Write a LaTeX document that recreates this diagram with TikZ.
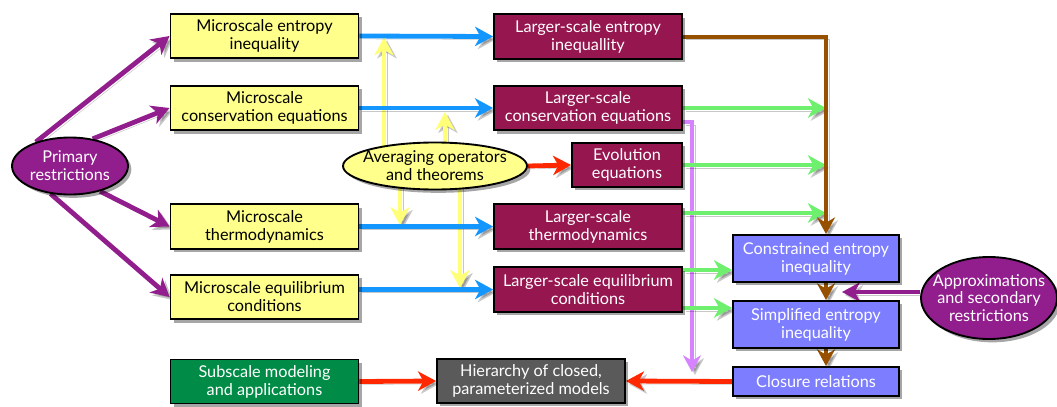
\documentclass[tikz,border=0pt]{standalone}
\usepackage{fontspec}
\setmainfont{Lato}
\usetikzlibrary{arrows.meta,shadows,backgrounds,calc,shapes.geometric}
\definecolor{ybox}{RGB}{255,255,140}
\definecolor{mbox}{RGB}{150,22,80}
\definecolor{bbox}{RGB}{125,125,255}
\definecolor{gbox}{RGB}{0,140,70}
\definecolor{hbox}{RGB}{90,90,90}
\definecolor{purp}{RGB}{145,30,140}
\definecolor{yarr}{RGB}{255,255,120}
\definecolor{barr}{RGB}{20,150,255}
\definecolor{brarr}{RGB}{150,80,0}
\definecolor{garr}{RGB}{110,240,110}
\definecolor{larr}{RGB}{215,130,255}
\definecolor{rarr}{RGB}{255,40,0}
\tikzset{
  shad/.style={drop shadow={shadow xshift=2.5pt,shadow yshift=-2.5pt,opacity=0.35,fill=black}},
  box/.style={rectangle, draw=black, line width=1.4pt, align=center, inner sep=1pt, shad},
  micro/.style={box, fill=ybox, text=black, minimum width=141pt, minimum height=33.5pt},
  large/.style={box, fill=mbox, text=white, minimum width=141pt, minimum height=33.5pt},
  bluebox/.style={box, fill=bbox, text=white, minimum width=124.5pt, minimum height=35.25pt},
  ell/.style={ellipse, draw=black, line width=1.4pt, inner sep=0pt, shad},
  lshad/.style={preaction={draw=black, opacity=0.22, transform canvas={xshift=2.2pt,yshift=-2.2pt}}},
  arr/.style={lshad, line width=3.6pt, -{Stealth[length=13.5pt,width=14.5pt,inset=4pt]}},
  thin/.style={lshad, line width=3pt, -{Stealth[length=12.5pt,width=13.5pt,inset=4pt]}},
}
\begin{document}
\begin{tikzpicture}[x=0.75pt,y=0.75pt,font=\fontsize{12.2}{13.6}\selectfont]
\useasboundingbox (0,0) rectangle (1057,-407);

% nodes
\node[micro] (ym1) at (264.5,-36) {Microscale entropy\\inequality};
\node[micro] (ym2) at (264.5,-108) {Microscale\\conservation equations};
\node[micro] (ym3) at (264.5,-226.5) {Microscale\\thermodynamics};
\node[micro] (ym4) at (264.5,-297) {Microscale equilibrium\\conditions};
\node[box, fill=gbox, text=white, minimum width=141pt, minimum height=33pt] (sub) at (264.5,-381.5) {Subscale modeling\\and applications};

\node[large] (L1) at (588,-36.5) {Larger-scale entropy\\inequallity};
\node[large] (L2) at (588,-108) {Larger-scale\\conservation equations};
\node[large] (L3) at (588,-226.5) {Larger-scale\\thermodynamics};
\node[large] (L4) at (588,-289.5) {Larger-scale equilibrium\\conditions};
\node[box, fill=mbox, text=white, minimum width=82.5pt, minimum height=33pt] (ev) at (627,-165) {Evolution\\equations};
\node[box, fill=hbox, text=white, minimum width=141pt, minimum height=33pt] (H) at (531,-381) {Hierarchy of closed,\\parameterized models};

\node[bluebox] (C) at (816,-258.5) {Constrained entropy\\inequality};
\node[bluebox] (S) at (816,-324.5) {Simplified entropy\\inequality};
\node[bluebox, minimum height=21.75pt] (Cl) at (816,-381.5) {Closure relations};

\node[ell, fill=purp, minimum width=87pt, minimum height=42.75pt,
  label={[align=center,text=white]center:{Primary\\restrictions}}] (prim) at (70,-166) {};
\node[ell, fill=ybox, minimum width=138pt, minimum height=35.25pt,
  label={[align=center,text=black]center:{Averaging operators\\and theorems}}] (avg) at (435,-166) {};
\node[ell, fill=purp, minimum width=102pt, minimum height=61.5pt,
  label={[align=center,text=white,font=\fontsize{12.2}{12.9}\selectfont]center:{Approximations\\and secondary\\restrictions}}] (ap) at (989,-298) {};

\coordinate (xa) at (384,0);
\coordinate (xb) at (400,0);
\coordinate (xc) at (445,0);
\coordinate (xd) at (460,0);
\coordinate (bx) at (826,0);
\coordinate (g3) at (0,-213);
\coordinate (g4) at (0,-270);
\coordinate (g5) at (0,-308);
\coordinate (lt) at (0,-122);
\coordinate (lx) at (692,-372);
\coordinate (apend) at (842,-292);

\begin{pgfonlayer}{background}
\fill[white] (0,0) rectangle (1057,-407);
% yellow averaging arrows
\draw[arr, yarr, shorten >=1pt] (xa |- avg.center) -- (xa |- ym1.east);
\draw[arr, yarr, shorten >=3pt] (xc |- avg.center) -- (xc |- ym2.east);
\draw[arr, yarr, shorten >=1pt] (xb |- avg.center) -- (xb |- ym3.east);
\draw[arr, yarr, shorten >=1pt] (xd |- avg.center) -- (xd |- L4.west);
% blue arrows
\draw[arr, barr] (ym1.east) -- (L1.west);
\draw[arr, barr] (ym2.east) -- (L2.west);
\draw[arr, barr] (ym3.east) -- (L3.west);
\draw[arr, barr] (ym4.east |- L4.west) -- (L4.west);
% purple from primary restrictions
\draw[arr, purp] (prim.145) -- (ym1.west);
\draw[arr, purp] (prim.50) -- (ym2.west);
\draw[arr, purp] (prim.-40) -- (ym3.west);
\draw[arr, purp] (prim.-125) -- (ym4.west);
% red
\draw[arr, rarr] (avg.east) -- (ev.west);
\draw[arr, rarr] (sub.east) -- (H.west);
\draw[arr, rarr] (Cl.west) -- (H.east);
% lilac
\draw[thin, larr] (L2.east |- lt) -| (lx);
% green
\draw[arr, garr] (L2.east) -- (bx |- L2.east);
\draw[arr, garr] (ev.east) -- (bx |- ev.east);
\draw[arr, garr] (L3.east |- g3) -- (bx |- g3);
\draw[arr, garr] (L4.east |- g4) -- (C.west |- g4);
\draw[arr, garr] (L4.east |- g5) -- (S.west |- g5);
% brown
\draw[thin, brarr] (L1.east) -| (bx |- C.north);
\draw[thin, brarr] (bx |- C.south) -- (bx |- S.north);
\draw[thin, brarr] (bx |- S.south) -- (bx |- Cl.north);
% purple from approximations
\draw[arr, purp] (ap.west |- apend) -- (apend);
\end{pgfonlayer}
\end{tikzpicture}
\end{document}
